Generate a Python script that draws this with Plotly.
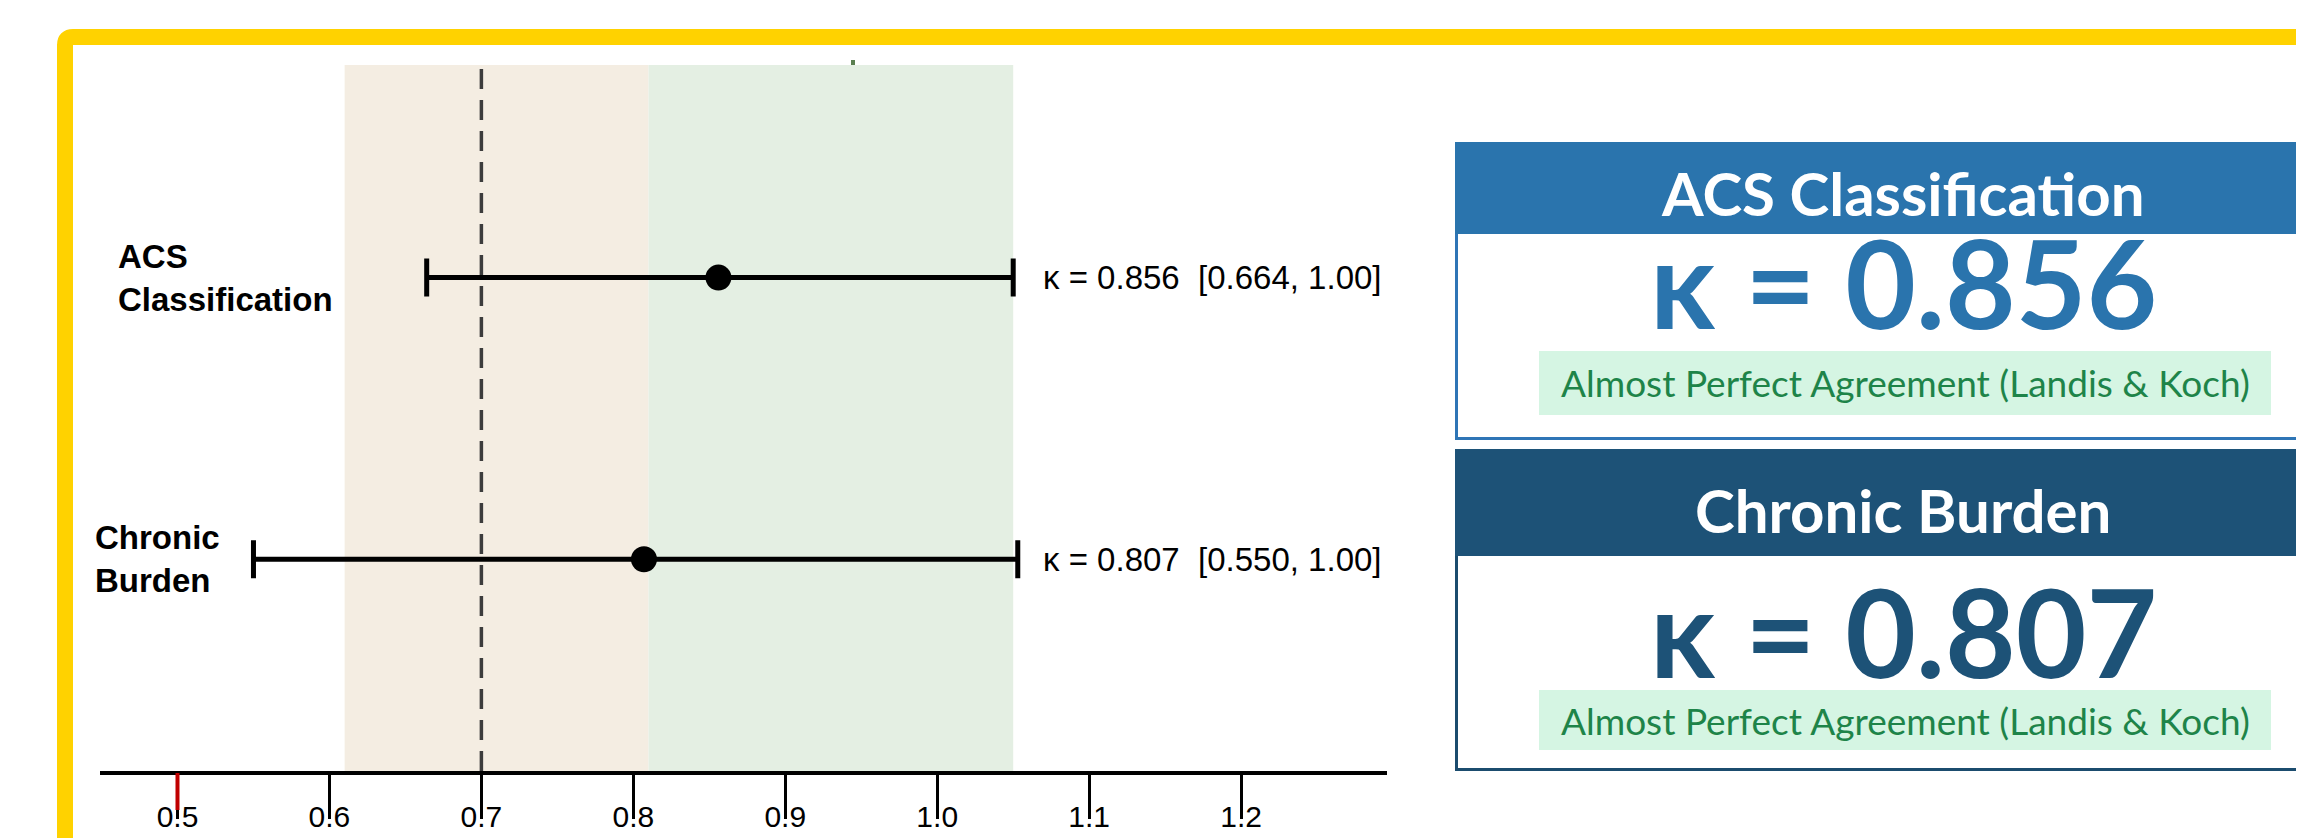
import plotly.graph_objects as go

# ---------------- data ----------------
categories = ["ACS Classification", "Chronic Burden"]
row_labels = ["ACS<br>Classification", "Chronic<br>Burden"]
kappa = [0.856, 0.807]
ci_low = [0.664, 0.550]
ci_high = [1.00, 1.00]
whisker_high = [1.05, 1.053]       # where the upper whisker caps are drawn in the picture
row_pos = [1, 0]
tick_vals = [0.5, 0.6, 0.7, 0.8, 0.9, 1.0, 1.1, 1.2]
band_moderate = [0.61, 0.81]
band_perfect = [0.81, 1.05]
threshold = 0.7
interpretation = ["Almost Perfect Agreement (Landis & Koch)",
                  "Almost Perfect Agreement (Landis & Koch)"]

OFF = 8                      # page body margin
W, H = 2304 - OFF, 838 - OFF
L, R, T, B = 100, 1387, 65, 771   # plot area in reference pixels


def px(x):
    return (x - L) / (R - L)


def py(y):
    return (B - y) / (B - T)


fig = go.Figure()

fig.add_trace(go.Scatter(
    x=kappa, y=row_pos, mode="markers",
    marker=dict(size=26, color="black"),
    error_x=dict(type="data", symmetric=False,
                 array=[h - k for h, k in zip(whisker_high, kappa)],
                 arrayminus=[k - l for k, l in zip(kappa, ci_low)],
                 color="black", thickness=5, width=19),
    hoverinfo="skip", showlegend=False,
))

shapes = []
shapes.append(dict(type="rect", xref="x", yref="paper", x0=band_moderate[0], x1=band_moderate[1],
                   y0=0, y1=1, fillcolor="#F4EDE2", line=dict(width=0), layer="below"))
shapes.append(dict(type="rect", xref="x", yref="paper", x0=band_perfect[0], x1=band_perfect[1],
                   y0=0, y1=1, fillcolor="#E4EFE3", line=dict(width=0), layer="below"))
shapes.append(dict(type="line", xref="x", yref="paper", x0=threshold, x1=threshold, y0=0, y1=1,
                   line=dict(color="#3C3C3C", width=3.5, dash="20px,11px"), layer="below"))
# red tick at 0.5
shapes.append(dict(type="line", xref="x", yref="paper", x0=0.5, x1=0.5, y0=py(773), y1=py(810),
                   line=dict(color="#C00000", width=4), layer="above"))
# tiny mark at top
shapes.append(dict(type="rect", xref="paper", yref="paper", x0=px(851), x1=px(855), y0=py(65), y1=py(60),
                   fillcolor="#5A7F50", line=dict(width=0)))

# yellow frame (rounded corner)
path = (f"M {px(65)},{py(900)} L {px(65)},{py(45)} "
        f"Q {px(65)},{py(37)} {px(73)},{py(37)} L {px(2400)},{py(37)}")
shapes.append(dict(type="path", xref="paper", yref="paper", path=path,
                   line=dict(color="#FFD200", width=16)))

card_specs = [
    dict(top=142, head=234, bot=440, head_col="#2A74AD", border="#2E75B6"),
    dict(top=449, head=556, bot=771, head_col="#1D5277", border="#1B4C6E"),
]
for c in card_specs:
    shapes.append(dict(type="rect", xref="paper", yref="paper", x0=px(1456.5), x1=px(2420),
                       y0=py(c["bot"] - 1.5), y1=py(c["top"] + 1.5), fillcolor="white",
                       line=dict(color=c["border"], width=3)))
    shapes.append(dict(type="rect", xref="paper", yref="paper", x0=px(1455), x1=px(2420),
                       y0=py(c["head"]), y1=py(c["top"]), fillcolor=c["head_col"],
                       line=dict(width=0)))
for top, bot in [(351, 415), (690, 750)]:
    shapes.append(dict(type="rect", xref="paper", yref="paper", x0=px(1539), x1=px(2271),
                       y0=py(bot), y1=py(top), fillcolor="#D5F5E3", line=dict(width=0)))

annotations = []
for lab, yv, lx in zip(row_labels, row_pos, [116, 93]):
    annotations.append(dict(x=px(lx), y=yv, xref="paper", yref="y", text=f"<b>{lab}</b>",
                            showarrow=False, xanchor="left", yanchor="middle", align="left",
                            font=dict(family="Liberation Sans, Arial", size=33, color="black")))
for k, lo, hi, yv in zip(kappa, ci_low, ci_high, row_pos):
    annotations.append(dict(x=px(1041), y=yv, xref="paper", yref="y",
                            text=f"κ = {k:.3f}\u00a0 [{lo:.3f}, {hi:.2f}]",
                            showarrow=False, xanchor="left", yanchor="middle",
                            font=dict(family="Liberation Sans, Arial", size=33, color="black")))

card_text_y = [dict(head=193, big=282, pill=383), dict(head=510, big=631, pill=720)]
big_cols = ["#2A74AD", "#1D5277"]
for name, k, interp, ty, col in zip(categories, kappa, interpretation, card_text_y, big_cols):
    annotations.append(dict(x=px(1903), y=py(ty["head"]), xref="paper", yref="paper",
                            text=f"<b>{name}</b>", showarrow=False, xanchor="center", yanchor="middle",
                            font=dict(family="Lato", size=60, color="white")))
    annotations.append(dict(x=px(1903), y=py(ty["big"]), xref="paper", yref="paper",
                            text=f"<b>κ = {k:.3f}</b>", showarrow=False, xanchor="center", yanchor="middle",
                            font=dict(family="Lato", size=122, color=col)))
    annotations.append(dict(x=px(1905), y=py(ty["pill"]), xref="paper", yref="paper",
                            text=interp, showarrow=False, xanchor="center", yanchor="middle",
                            font=dict(family="Lato", size=37, color="#1E8449")))

fig.update_layout(
    width=W, height=H,
    margin=dict(l=L - OFF, r=W - (R - OFF), t=T - OFF, b=H - (B - OFF), pad=0, autoexpand=False),
    paper_bgcolor="white", plot_bgcolor="rgba(0,0,0,0)",
    shapes=shapes, annotations=annotations,
    xaxis=dict(range=[0.449, 1.296], tickvals=tick_vals, tickformat=".1f",
               ticks="outside", ticklen=44, tickwidth=3, tickcolor="black",
               showline=True, linecolor="black", linewidth=4, showgrid=False, zeroline=False,
               ticklabelstandoff=-28, automargin=False,
               tickfont=dict(family="Liberation Sans, Arial", size=30, color="black"),
               fixedrange=True),
    yaxis=dict(range=[-0.752, 1.755], visible=False, fixedrange=True, automargin=False),
    showlegend=False,
)

fig.write_html("out.html")
